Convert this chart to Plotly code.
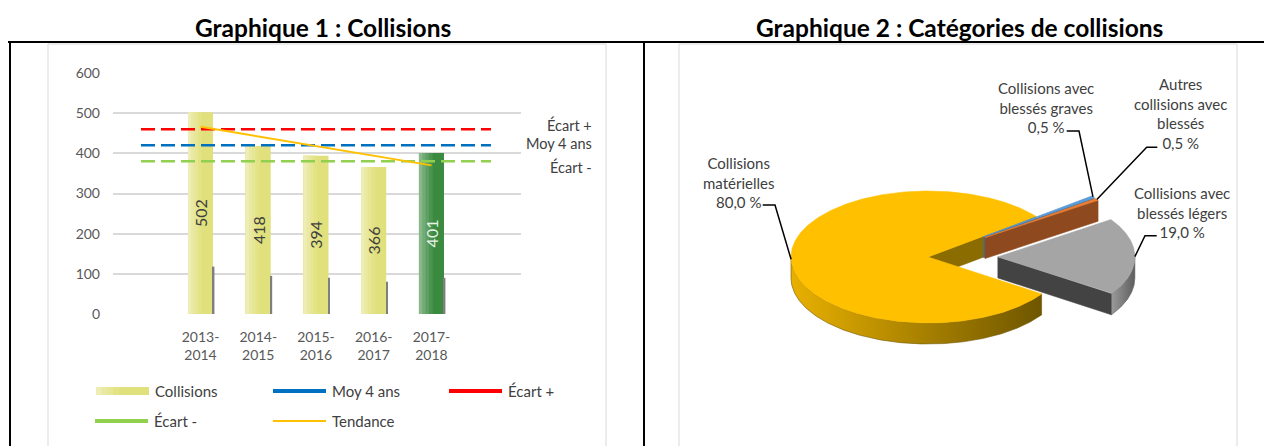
import numpy as np
import plotly.graph_objects as go

# ---------------- DATA : Graphique 1 ----------------
periodes = ["2013-2014", "2014-2015", "2015-2016", "2016-2017", "2017-2018"]
collisions = [502, 418, 394, 366, 401]
serie_secondaire = [118, 95, 90, 80, 90]
tendance = [466, 442, 418, 394, 370]
moy_4_ans = 420
ecart_plus = 460
ecart_moins = 380
y_ticks = [0, 100, 200, 300, 400, 500, 600]

# ---------------- DATA : Graphique 2 ----------------
pie_labels = ["Collisions avec<br>blessés graves",
              "Autres<br>collisions avec<br>blessés",
              "Collisions avec<br>blessés légers",
              "Collisions<br>matérielles"]
pie_values = [0.5, 0.5, 19.0, 80.0]

# ---------------- STYLE ----------------
W, H_FIG = 1264, 446
FONT = "Lato, Carlito, Calibri, sans-serif"
TXT = "#404040"
AX = "#595959"
GRID = "#d9d9d9"
BAR_COLORS = ["#E0E07C"] * 4 + ["#3A8A40"]
# smooth left-side lightening (gradient imitation): (relative width, colours)
BAR_SHADES = [
    (0.55, ["#E3E386"] * 4 + ["#4A9450"]),
    (0.40, ["#E6E694"] * 4 + ["#5E9F63"]),
    (0.26, ["#E9E9A3"] * 4 + ["#72AB76"]),
    (0.13, ["#EDEDB4"] * 4 + ["#88B98A"]),
]
BAR_TXT = [TXT] * 4 + ["#E8F2E8"]
C_MOY, C_PLUS, C_MOINS, C_TEND = "#0070C0", "#FF0000", "#92D050", "#FFC000"
BW = 0.433

def px(x):
    return x / W

def py(y):
    return 1 - y / H_FIG

fig = go.Figure()
annotations = []

# ---------------- Graphique 1 ----------------
xs = list(range(len(periodes)))
bar_common = dict(x=xs, y=collisions, showlegend=False, hoverinfo="skip")
fig.add_trace(go.Bar(width=BW, offset=-BW / 2,
                     marker=dict(color=BAR_COLORS, line=dict(width=0)),
                     name="Collisions", **bar_common))
for frac, cols in BAR_SHADES:
    fig.add_trace(go.Bar(width=BW * frac, offset=-BW / 2,
                         marker=dict(color=cols, line=dict(width=0)), **bar_common))
# value labels
fig.add_trace(go.Bar(width=BW, offset=-BW / 2,
                     marker=dict(color="rgba(0,0,0,0)", line=dict(width=0)),
                     text=[str(v) for v in collisions], textposition="inside",
                     insidetextanchor="middle", textangle=-90,
                     textfont=dict(family=FONT, size=16, color=BAR_TXT), **bar_common))
fig.add_trace(go.Bar(x=xs, y=serie_secondaire, width=0.025, offset=BW / 2,
                     marker=dict(color="#7F7F7F", line=dict(width=0)),
                     showlegend=False, hoverinfo="skip"))
x_ext = [-1.03, 5.03]
for val, col in [(ecart_plus, C_PLUS), (moy_4_ans, C_MOY), (ecart_moins, C_MOINS)]:
    fig.add_trace(go.Scatter(x=x_ext, y=[val, val], mode="lines",
                             line=dict(color=col, width=2.5, dash="14px,6px"),
                             showlegend=False, hoverinfo="skip"))
fig.add_trace(go.Scatter(x=xs, y=tendance, mode="lines",
                         line=dict(color=C_TEND, width=2),
                         showlegend=False, hoverinfo="skip"))

# ---------------- Graphique 2 : pseudo 3D pie ----------------
CX, CY, RX, RY, TH = 928.0, 257.0, 137.0, 66.0, 21.0
START = 38.0
pull = [0.51, 0.51, 0.51, 0.0]
top_col = ["#5B9BD5", "#ED7D31", "#A5A5A5", "#FFC000"]
face_col = ["#3E6F9E", "#8E4A1E", "#434343", "#8A6C00"]
rim_grad = [("#4A7FB0", "#2E5A85"), ("#B35A20", "#7A3A12"),
            ("#9A9A9A", "#5E5E5E"), ("#E8B000", "#6E5600")]
draw_order = [3, 0, 1, 2]

total = sum(pie_values)
geo = []
a = START
for i, v in enumerate(pie_values):
    sweep = 360.0 * v / total
    a0, a1 = a - sweep, a   # slice spans [a0, a1] degrees
    a = a0
    mid = np.radians((a0 + a1) / 2)
    ox = pull[i] * RX * np.cos(mid)
    oy = -pull[i] * RY * np.sin(mid)
    geo.append((a0, a1, mid, ox, oy))

def pt(t, ox, oy, dz=0.0):
    return CX + ox + RX * np.cos(t), CY + oy - RY * np.sin(t) + dz

def poly(xp, yp, color, grad=None):
    kw = dict(x=list(xp) + [xp[0]], y=list(yp) + [yp[0]], mode="lines",
              fill="toself", fillcolor=color, line=dict(width=0.6, color=color),
              xaxis="x2", yaxis="y2", showlegend=False, hoverinfo="skip")
    if grad is not None:
        kw["fillgradient"] = dict(type="horizontal",
                                  colorscale=[[0, grad[0]], [1, grad[1]]])
    fig.add_trace(go.Scatter(**kw))

for i in draw_order:
    a0, a1, mid, ox, oy = geo[i]
    ax_, ay_ = CX + ox, CY + oy
    # radial faces facing the viewer
    for ang, visible in [(a1, np.cos(np.radians(a1)) < 0), (a0, np.cos(np.radians(a0)) > 0)]:
        if visible:
            t = np.radians(ang)
            ex, ey = pt(t, ox, oy)
            poly([ax_, ex, ex, ax_], [ay_, ey, ey + TH, ay_ + TH], face_col[i])
    # front rim
    ts = np.radians(np.linspace(a0, a1, max(int(abs(a1 - a0) * 2), 3)))
    front = np.sin(ts) <= 0
    run, runs = [], []
    for t, f in zip(ts, front):
        if f:
            run.append(t)
        elif run:
            runs.append(run)
            run = []
    if run:
        runs.append(run)
    for r in runs:
        if len(r) < 2:
            continue
        top = [pt(t, ox, oy) for t in r]
        bot = [pt(t, ox, oy, TH) for t in r[::-1]]
        poly([p[0] for p in top + bot], [p[1] for p in top + bot], rim_grad[i][1], rim_grad[i])
    # top face
    arc = [pt(t, ox, oy) for t in ts]
    poly([ax_] + [p[0] for p in arc], [ay_] + [p[1] for p in arc], top_col[i])

# labels + leader lines
lab_pos = [(1046, 107.5), (1180.5, 113.5), (1181.5, 212.5), (738.3, 182.5)]
lead_pts = [[(1066.7, 131), (1079, 131)],
            [(1157.3, 147.3), (1146.7, 147.3)],
            [(1156.7, 235.7), (1145, 235.7)],
            [(762.7, 205), (775, 205)]]
for i, v in enumerate(pie_values):
    a0, a1, mid, ox, oy = geo[i]
    anc = pt(mid, ox, oy)
    pts = lead_pts[i] + [anc]
    fig.add_trace(go.Scatter(x=[p[0] for p in pts], y=[p[1] for p in pts], mode="lines",
                             line=dict(color="black", width=1.5), xaxis="x2", yaxis="y2",
                             showlegend=False, hoverinfo="skip"))
    pct = f"{v:.1f} %".replace(".", ",")
    annotations.append(dict(x=lab_pos[i][0], y=lab_pos[i][1], xref="x2", yref="y2",
                            text=f"{pie_labels[i]}<br>{pct}", showarrow=False,
                            xanchor="center", yanchor="middle", align="center",
                            font=dict(family=FONT, size=15, color=TXT)))

# ---------------- Layout ----------------
shapes = [
    dict(type="rect", xref="paper", yref="paper", x0=px(48), x1=px(606), y0=py(447), y1=py(44),
         line=dict(color=GRID, width=1)),
    dict(type="rect", xref="paper", yref="paper", x0=px(679), x1=px(1237), y0=py(447), y1=py(44),
         line=dict(color=GRID, width=1)),
    dict(type="line", xref="paper", yref="paper", x0=px(8), x1=px(1264), y0=py(42), y1=py(42),
         line=dict(color="black", width=2)),
    dict(type="line", xref="paper", yref="paper", x0=px(10), x1=px(10), y0=py(42), y1=py(446),
         line=dict(color="black", width=2)),
    dict(type="line", xref="paper", yref="paper", x0=px(644), x1=px(644), y0=py(42), y1=py(446),
         line=dict(color="black", width=2)),
]

# custom legend
legend_items = [
    ("Collisions", "bar", BAR_COLORS[0], 8, 96, 391),
    ("Moy 4 ans", "line", C_MOY, 4, 273, 391),
    ("Écart +", "line", C_PLUS, 4, 449, 391),
    ("Écart -", "line", C_MOINS, 4, 95, 421),
    ("Tendance", "line", C_TEND, 2, 273, 421),
]
for name, kind, col, thick, lx, ly in legend_items:
    if kind == "bar":
        shapes.append(dict(type="rect", xref="paper", yref="paper", x0=px(lx), x1=px(lx + 53),
                           y0=py(ly + thick / 2), y1=py(ly - thick / 2),
                           fillcolor=col, line=dict(width=0)))
        for frac, cols in BAR_SHADES:
            shapes.append(dict(type="rect", xref="paper", yref="paper", x0=px(lx),
                               x1=px(lx + 53 * frac * 0.8),
                               y0=py(ly + thick / 2), y1=py(ly - thick / 2),
                               fillcolor=cols[0], line=dict(width=0)))
    else:
        shapes.append(dict(type="line", xref="paper", yref="paper", x0=px(lx), x1=px(lx + 53),
                           y0=py(ly), y1=py(ly), line=dict(color=col, width=thick)))
    annotations.append(dict(x=px(lx + 57), y=py(ly), xref="paper", yref="paper", text=name,
                            showarrow=False, xanchor="left", yanchor="middle",
                            font=dict(family=FONT, size=15, color=TXT)))

for txt, yy in [("Écart +", 125), ("Moy 4 ans", 143.3), ("Écart -", 166.7)]:
    annotations.append(dict(x=px(594), y=py(yy), xref="paper", yref="paper", text=txt,
                            showarrow=False, xanchor="right", yanchor="middle",
                            font=dict(family=FONT, size=14.5, color=TXT)))

for txt, cx in [("Graphique 1 : Collisions", 323), ("Graphique 2 : Catégories de collisions", 959)]:
    annotations.append(dict(x=px(cx), y=py(28), xref="paper", yref="paper", text=f"<b>{txt}</b>",
                            showarrow=False, xanchor="center", yanchor="middle",
                            font=dict(family=FONT, size=24.5, color="black")))

fig.update_layout(
    width=W, height=H_FIG, margin=dict(l=0, r=0, t=0, b=0, pad=0, autoexpand=False),
    paper_bgcolor="white", plot_bgcolor="rgba(0,0,0,0)",
    barmode="overlay", showlegend=False,
    xaxis=dict(domain=[px(113), px(520.7)], range=[-1.515, 5.545],
               tickvals=xs, ticktext=[p.replace("-", "-<br>") for p in periodes],
               showgrid=False, zeroline=False, showline=False, ticks="",
               tickfont=dict(family=FONT, size=14, color=AX), ticklabelstandoff=13,
               automargin=False, fixedrange=True),
    yaxis=dict(domain=[py(314), py(73)], range=[0, 600], tickvals=y_ticks,
               gridcolor=GRID, gridwidth=1.5, zeroline=False, showline=False, ticks="",
               tickfont=dict(family=FONT, size=14, color=AX), ticklabelstandoff=12,
               automargin=False, fixedrange=True),
    xaxis2=dict(domain=[px(679), px(1237)], range=[679, 1237], visible=False,
                anchor="y2", automargin=False, fixedrange=True),
    yaxis2=dict(domain=[0, py(44)], range=[446, 44], visible=False,
                anchor="x2", automargin=False, fixedrange=True),
    shapes=shapes, annotations=annotations,
)

fig.write_html("out.html", config={"displayModeBar": False},
               post_script="document.body.style.margin='0';document.body.style.overflow='hidden';")
